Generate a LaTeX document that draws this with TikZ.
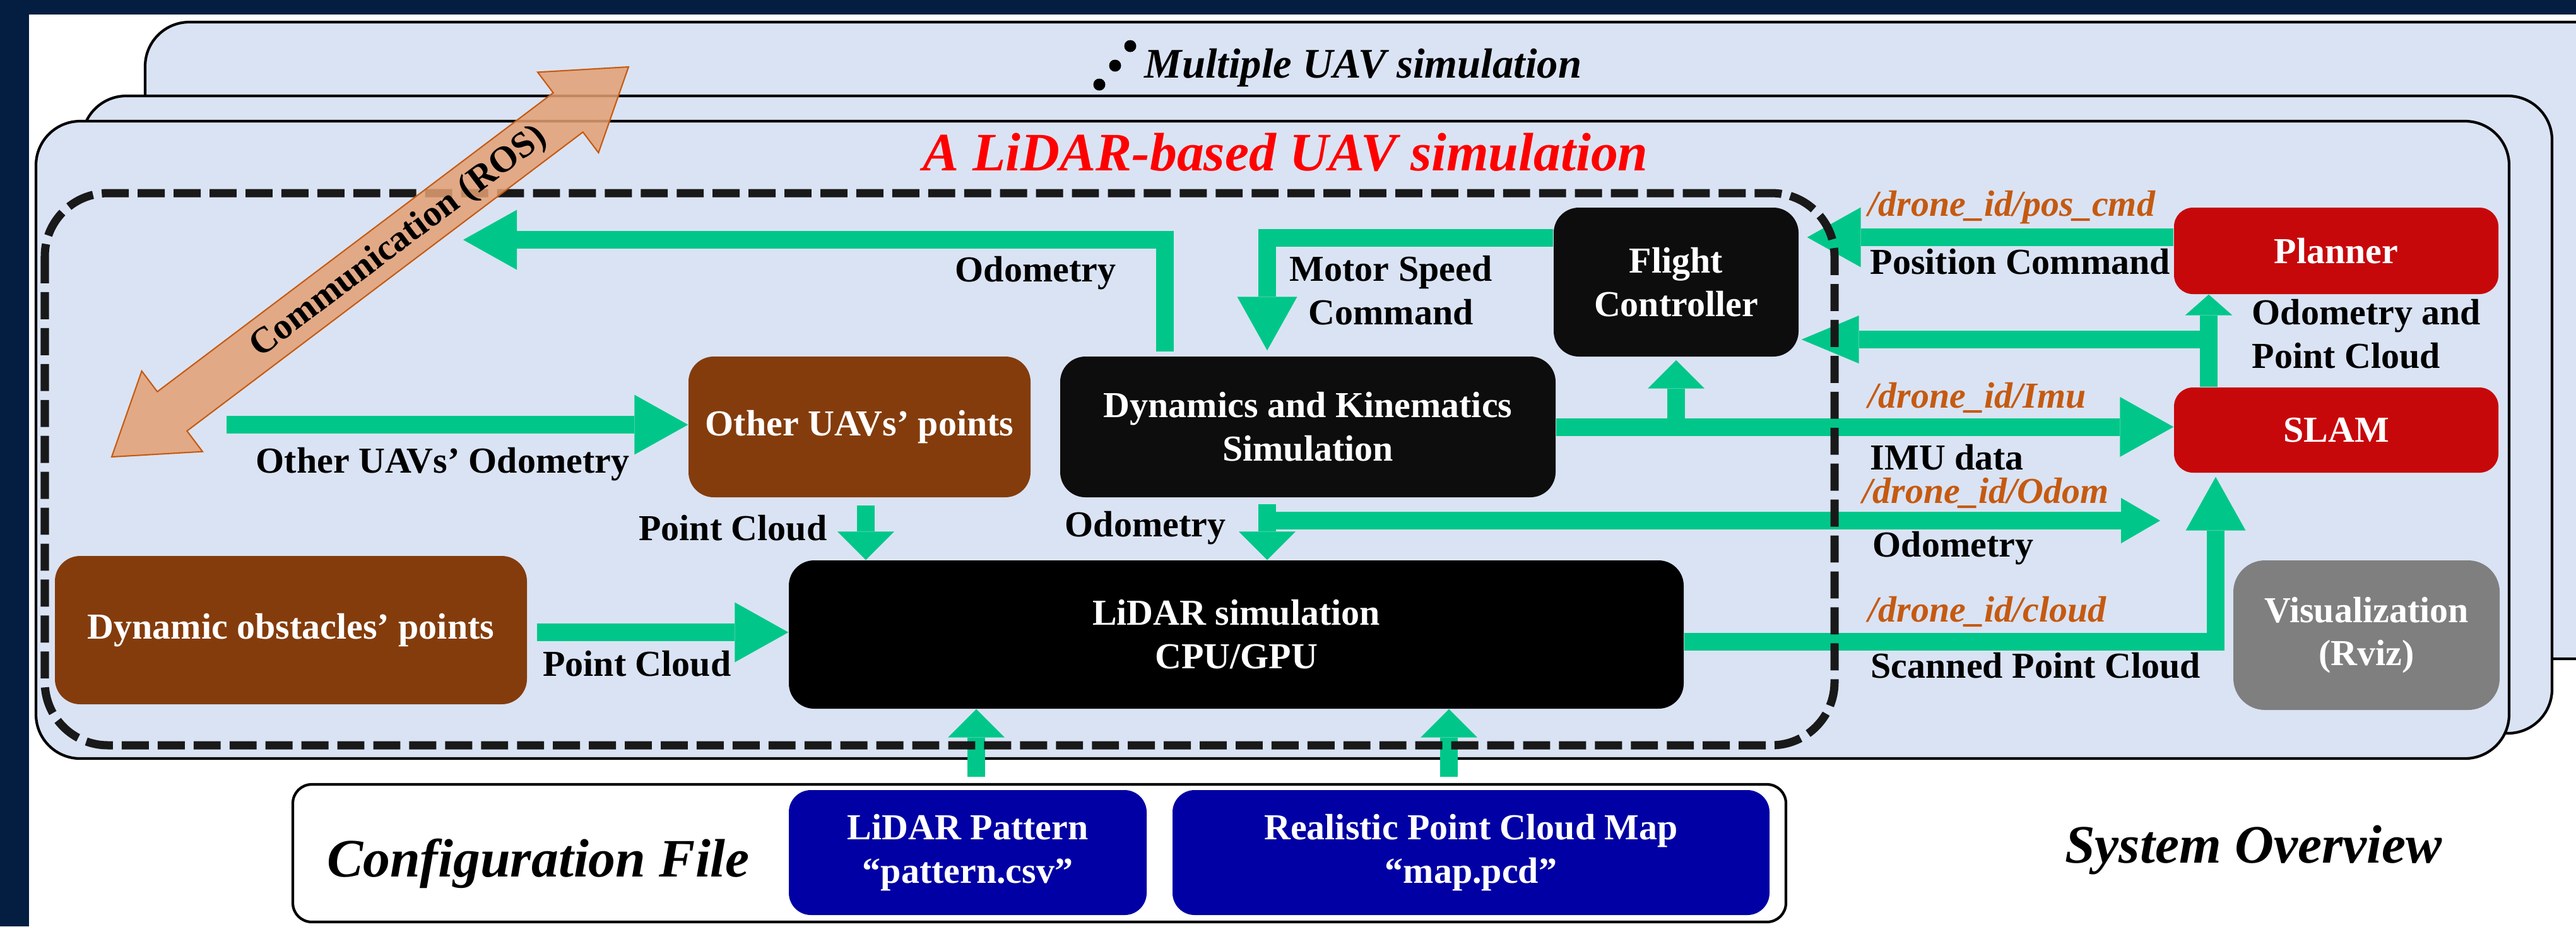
\documentclass[tikz,border=0pt]{standalone}
\usepackage{fontspec}
\setmainfont{Liberation Serif}
\usetikzlibrary{arrows.meta}
\definecolor{navy}{RGB}{4,30,66}
\definecolor{panelblue}{HTML}{DAE3F3}
\definecolor{flowgreen}{RGB}{0,199,137}
\definecolor{ptbrown}{HTML}{843C0C}
\definecolor{plannerred}{RGB}{199,8,11}
\definecolor{nearblack}{HTML}{0D0D0D}
\definecolor{rvizgray}{HTML}{7F7F7F}
\definecolor{cfgblue}{RGB}{0,0,164}
\definecolor{topic}{HTML}{C55A11}
\definecolor{commfill}{RGB}{228,160,115}
\begin{document}
\begin{tikzpicture}
[x=1cm, y=-1cm, line join=miter,
 box/.style={rounded corners=4mm, inner sep=0pt, align=center, text=white, font=\fontsize{16.5}{19.6}\selectfont\bfseries},
 lbl/.style={inner sep=0pt, font=\fontsize{16.5}{19.6}\selectfont\bfseries},
 topic/.style={inner sep=0pt, text=topic, font=\fontsize{16.5}{19.6}\selectfont\bfseries\itshape},
 heading/.style={inner sep=0pt, font=\fontsize{24.4}{28}\selectfont\bfseries\itshape},
 flow/.style={draw=flowgreen, line width=2.8mm},
 big/.style={-{Triangle[length=8.5mm,width=9.5mm,line width=0pt]}},
 flat/.style={-{Triangle[length=4.5mm,width=9mm,line width=0pt]}},
 panel/.style={fill=panelblue, draw=black, line width=1.2pt, rounded corners=7mm}]
\useasboundingbox (0,0) rectangle (40.82,14.68);
\clip (0,0) rectangle (40.82,14.68);
\fill[white] (0,0) rectangle (40.82,14.68);
\fill[navy] (0,0) rectangle (40.82,0.23);
\fill[navy] (0,0) rectangle (0.46,14.68);

% stacked simulation panels
\draw[panel] (2.30,0.35) rectangle (41.60,10.44);
\draw[panel] (1.30,1.52) rectangle (40.44,11.62);
\draw[panel] (0.57,1.92) rectangle (39.76,12.02);

\foreach \x/\y in {17.91/0.73, 17.67/1.04, 17.42/1.34}
  \fill (\x,\y) circle (0.095);
\node[heading, font=\fontsize{19}{22}\selectfont\bfseries\itshape, anchor=base west] (multi) at (18.13,1.23) {Multiple UAV simulation};
\node[heading, text=red, anchor=base] (title) at (20.37,2.70) {A LiDAR-based UAV simulation};

% blocks
\node[box, fill=plannerred, rounded corners=3mm, minimum width=5.14cm, minimum height=1.37cm] (planner) at (37.02,3.975) {Planner};
\node[box, fill=plannerred, rounded corners=3mm, minimum width=5.14cm, minimum height=1.35cm] (slam) at (37.02,6.815) {SLAM};
\node[box, fill=rvizgray, rounded corners=5mm, minimum width=4.22cm, minimum height=2.37cm] (rviz) at (37.50,10.065) {Visualization\\(Rviz)};
\node[box, fill=nearblack, minimum width=3.88cm, minimum height=2.36cm] (fc) at (26.56,4.47) {Flight\\Controller};
\node[box, fill=nearblack, minimum width=7.85cm, minimum height=2.23cm] (dyn) at (20.725,6.765) {Dynamics and Kinematics\\Simulation};
\node[box, fill=ptbrown, minimum width=5.42cm, minimum height=2.23cm] (other) at (13.62,6.765) {Other UAVs’ points};
\node[box, fill=ptbrown, minimum width=7.48cm, minimum height=2.35cm] (obst) at (4.61,9.985) {Dynamic obstacles’ points};
\node[box, fill=black, minimum width=14.18cm, minimum height=2.35cm] (lidar) at (19.59,10.055) {LiDAR simulation\\CPU/GPU};
\node[draw=black, fill=white, line width=1.2pt, rounded corners=3mm, minimum width=23.66cm, minimum height=2.18cm] (cfg) at (16.47,13.52) {};
\node[box, fill=cfgblue, rounded corners=3.5mm, minimum width=5.67cm, minimum height=1.98cm] (pattern) at (15.335,13.51) {LiDAR Pattern\\“pattern.csv”};
\node[box, fill=cfgblue, rounded corners=3.5mm, minimum width=9.46cm, minimum height=1.98cm] (map) at (23.31,13.51) {Realistic Point Cloud Map\\“map.pcd”};
\node[heading, anchor=base] (cfgname) at (8.53,13.89) {Configuration File};
\node[heading, anchor=base] (overview) at (35.71,13.67) {System Overview};

% free ends
\coordinate (commhead) at (7.34,3.80);
\coordinate (commtail) at (3.59,6.73);
\coordinate (odomend) at (34.23,8.25);
\coordinate (fork) at (35.00,5.38);
\path ([xshift=-6.45mm, yshift=-1mm]dyn.south) coordinate (odomtop);

% data flow
\draw[flow, big] ([xshift=-22.65mm, yshift=0.7mm]dyn.north) |- (commhead);
\draw[flow, big] ([yshift=7mm]fc.west) -| ([xshift=-6.45mm, yshift=0.9mm]dyn.north);
\draw[flow, big] (dyn.east) -- (dyn.east -| slam.west);
\draw[flow, flat] (dyn.east -| fc.south) -- ([yshift=-0.5mm]fc.south);
\draw[flow, flat] (odomtop) -- (odomtop |- lidar.north);
\draw[flow, -{Triangle[length=6.2mm,width=7.2mm,line width=0pt]}] (odomtop |- odomend) -- (odomend);
\draw[flow, big] ([yshift=-1.15mm]lidar.east) -| ([xshift=-19.1mm, yshift=-0.6mm]slam.south);
\draw[flow, big] ([yshift=2.15mm]planner.west) -- ([xshift=1.3mm, yshift=2.15mm]planner.west -| fc.east);
\draw[flow, -{Triangle[length=3.3mm,width=7.5mm,line width=0pt]}] (fork |- slam.north) -- (fork |- planner.south);
\draw[flow, -{Triangle[length=9.1mm,width=7.6mm,line width=0pt]}] (fork) -- ([xshift=0.4mm]fork -| fc.east);
\draw[flow, big] (commtail) -- (commtail -| other.west);
\draw[flow, flat] ([xshift=1mm, yshift=-1.2mm]other.south) -- ([xshift=1mm]other.south |- lidar.north);
\draw[flow, big] ([xshift=1.5mm, yshift=-0.35mm]obst.east) -- ([yshift=-0.35mm]obst.east -| lidar.west);
\draw[flow, flat] ([xshift=1.35mm, yshift=2mm]pattern.north) -- ([xshift=1.35mm]pattern.north |- lidar.south);
\draw[flow, flat] ([xshift=-3.5mm, yshift=2mm]map.north) -- ([xshift=-3.5mm]map.north |- lidar.south);

% one simulated UAV
\draw[black!90, line width=3.7pt, dash pattern=on 12.2pt off 4pt, rounded corners=10mm] (0.71,3.06) rectangle (29.07,11.81);

% ROS link
\draw[draw=topic, fill=commfill, fill opacity=0.85, line width=0.6pt] (9.96,1.06) -- (9.484,2.42) -- (9.237,2.093) -- (2.963,6.829) -- (3.21,7.156) -- (1.77,7.24) -- (2.246,5.88) -- (2.493,6.207) -- (8.767,1.471) -- (8.52,1.144) -- cycle;
\node[lbl, rotate=37] (ros) at (6.32,3.84) {Communication (ROS)};

% labels
\node[lbl, anchor=base east] at (17.69,4.46) {Odometry};
\node[lbl, anchor=north, align=center] at (22.04,4.05) {Motor Speed\\Command};
\node[topic, anchor=base west] at (29.60,3.42) {/drone\_id/pos\_cmd};
\node[lbl, anchor=base west] at (29.63,4.34) {Position Command};
\node[lbl, anchor=north west, align=left] at (35.68,4.74) {Odometry and\\Point Cloud};
\node[topic, anchor=base west] at (29.60,6.46) {/drone\_id/Imu};
\node[lbl, anchor=base west] at (29.63,7.44) {IMU data};
\node[topic, anchor=base west] at (29.51,7.97) {/drone\_id/Odom};
\node[lbl, anchor=base west] at (29.67,8.82) {Odometry};
\node[topic, anchor=base west] at (29.60,9.85) {/drone\_id/cloud};
\node[lbl, anchor=base west] at (29.64,10.74) {Scanned Point Cloud};
\node[lbl, anchor=base east] at (9.98,7.49) {Other UAVs’ Odometry};
\node[lbl, anchor=base east] at (13.11,8.56) {Point Cloud};
\node[lbl, anchor=base east] at (19.43,8.50) {Odometry};
\node[lbl, anchor=base east] at (11.59,10.71) {Point Cloud};
\end{tikzpicture}
\end{document}
